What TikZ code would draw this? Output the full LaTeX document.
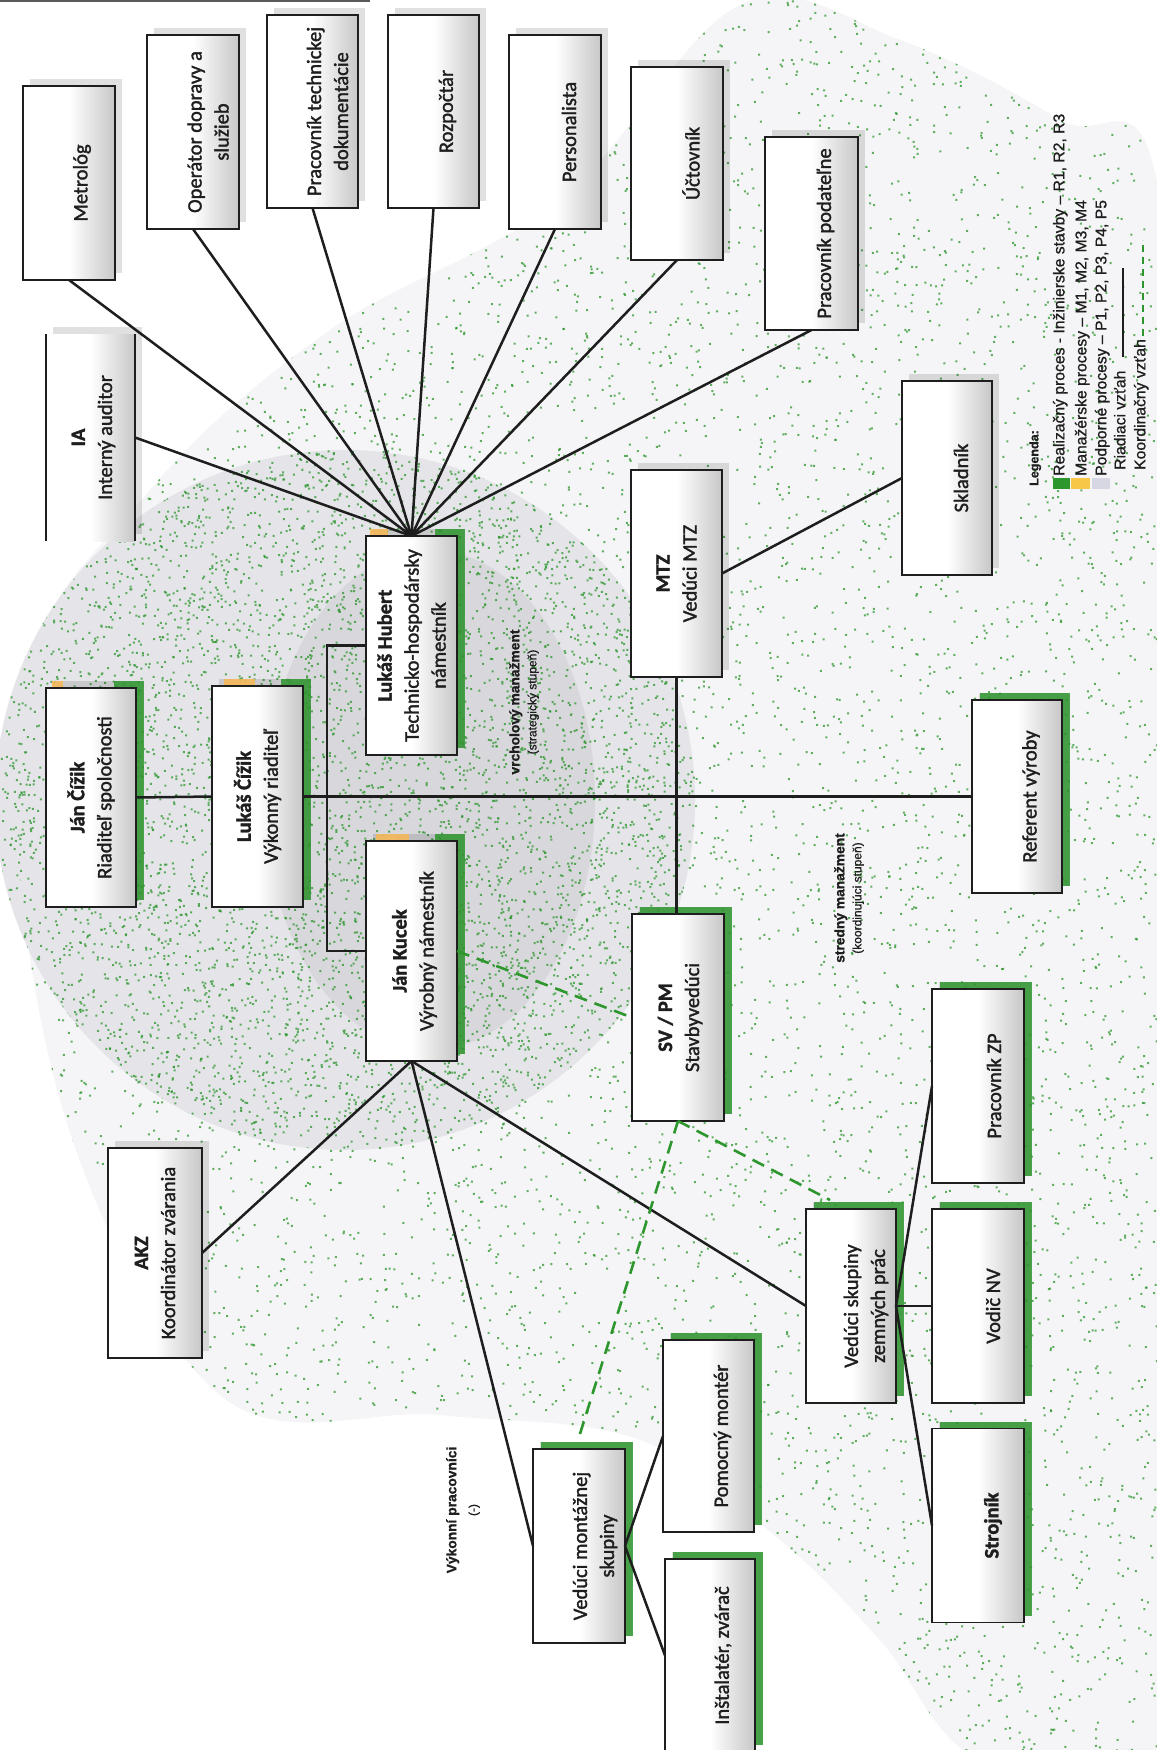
\documentclass[tikz,border=0pt]{standalone}
\usepackage{fontspec}
\setmainfont{Carlito}[FakeBold=1.6]
\newfontfamily\legfont{Liberation Sans}[FakeBold=1.0]
\usetikzlibrary{calc}
\pgfdeclarelayer{back}
\pgfdeclarelayer{shad}
\pgfsetlayers{back,shad,main}
\definecolor{grn}{RGB}{45,150,45}
\definecolor{org}{RGB}{245,185,90}
\definecolor{bgA}{RGB}{245,245,247}
\definecolor{bgB}{RGB}{229,229,233}
\definecolor{bgC}{RGB}{216,216,220}
\definecolor{ink}{RGB}{30,30,30}
\definecolor{lav}{RGB}{215,215,228}
\tikzset{
 obox/.style={rectangle, draw=ink, line width=1.7pt, left color=white, right color=black!22, middle color=white, inner sep=0pt, outer sep=0pt},
 otext/.style={rotate=90, align=center, inner sep=0pt, text=ink, font=\fontsize{20.5}{27}\selectfont},
 conn/.style={draw=ink, line width=2.5pt},
 coordl/.style={draw=grn, line width=2.6pt, dash pattern=on 13pt off 8pt},
 gshad/.style={fill=grn, opacity=0.85},
 pshad/.style={fill=black, opacity=0.12},
 lgd/.style={rotate=90, anchor=mid west, inner sep=0pt, text=ink, font=\legfont\fontsize{15.7}{18}\selectfont},
 lvl/.style={rotate=90, align=center, inner sep=0pt, text=ink, font=\legfont\fontsize{13.8}{17}\selectfont},
 spk/.style={fill=grn, opacity=0.75},
}
\newcommand\ShGray[1]{\fill[pshad] ($(#1.south west)+(7,-7)$) rectangle ($(#1.north east)+(7,-7)$);}
\newcommand\ShGreen[1]{\fill[gshad] ($(#1.south west)+(8,-7)$) rectangle ($(#1.north east)+(8,-7)$);}
\newcommand\ShHead[3]{\fill[gshad] ($(#1.south east)+(-22,-7)$) rectangle ($(#1.north east)+(8,-7)$);
 \fill[org, opacity=0.9] ($(#1.north west)+(#2,0)$) rectangle ($(#1.north west)+(#3,-7)$);}
\newcommand\OuterBlob{plot[smooth cycle, tension=0.6] coordinates {(20,700) (150,490) (330,330) (560,200) (740,5) (900,40) (1060,120) (1160,200) (1175,900) (1160,1760) (980,1760) (880,1640) (780,1540) (640,1440) (440,1415) (220,1395) (60,1100)}}
\begin{document}
\begin{tikzpicture}[x=1pt,y=-1pt]
\useasboundingbox (0,0) rectangle (1156,1750);

% ---------- boxes ----------
\node[obox, minimum width=92pt, minimum height=194pt] (metro) at (69,183) {};
\node[otext] (metroT) at ([xshift=13pt]metro.center) {Metrológ};
\node[obox, minimum width=92pt, minimum height=194pt] (oper) at (193,132) {};
\node[otext] (operT) at ([xshift=15pt]oper.center) {Operátor dopravy a\\služieb};
\node[obox, minimum width=91pt, minimum height=193pt] (ptd) at (312.5,111.5) {};
\node[otext] (ptdT) at ([xshift=15pt]ptd.center) {Pracovník technickej\\dokumentácie};
\node[obox, minimum width=91pt, minimum height=193pt] (rozp) at (433.5,111.5) {};
\node[otext] (rozpT) at ([xshift=14pt]rozp.center) {Rozpočtár};
\node[obox, minimum width=92pt, minimum height=194pt] (pers) at (555,132) {};
\node[otext] (persT) at ([xshift=14pt]pers.center) {Personalista};
\node[obox, minimum width=92pt, minimum height=193pt] (ucto) at (677,163.5) {};
\node[otext] (uctoT) at ([xshift=14pt]ucto.center) {Účtovník};
\node[obox, minimum width=93pt, minimum height=193pt] (podat) at (811.5,233.5) {};
\node[otext] (podatT) at ([xshift=14pt]podat.center) {Pracovník podateľne};
\node[obox, minimum width=90pt, minimum height=194pt] (sklad) at (947,478) {};
\node[otext] (skladT) at ([xshift=14pt]sklad.center) {Skladník};

\node[obox, draw=none, minimum width=89pt, minimum height=207pt] (ia) at (90.5,437.5) {};
\node[otext] (iaT) at ([xshift=3pt]ia.center) {\textbf{IA}\\Interný auditor};

\node[obox, minimum width=90pt, minimum height=219pt] (jan) at (91,797.5) {};
\node[otext] (janT) at (jan.center) {\textbf{Ján Čížik}\\Riaditeľ spoločnosti};
\node[obox, minimum width=91pt, minimum height=221pt] (lukas) at (257.5,796.5) {};
\node[otext] (lukasT) at (lukas.center) {\textbf{Lukáš Čížik}\\Výkonný riaditeľ};
\node[obox, minimum width=91pt, minimum height=219pt] (hubert) at (411.5,645.5) {};
\node[otext] (hubertT) at (hubert.center) {\textbf{Lukáš Hubert}\\Technicko-hospodársky\\námestník};
\node[obox, minimum width=91pt, minimum height=220pt] (kucek) at (411.5,951) {};
\node[otext] (kucekT) at ([xshift=3pt]kucek.center) {\textbf{Ján Kucek}\\Výrobný námestník};
\node[obox, minimum width=91pt, minimum height=207pt] (mtz) at (676.5,573.5) {};
\node[otext] (mtzT) at (mtz.center) {\textbf{MTZ}\\Vedúci MTZ};
\node[obox, minimum width=92pt, minimum height=207pt] (svpm) at (678,1017.5) {};
\node[otext] (svpmT) at ([xshift=2pt]svpm.center) {\textbf{SV / PM}\\Stavbyvedúci};
\node[obox, minimum width=90pt, minimum height=193pt] (ref) at (1017,796.5) {};
\node[otext] (refT) at ([xshift=14pt]ref.center) {Referent výroby};
\node[obox, minimum width=94pt, minimum height=210pt] (akz) at (155,1253) {};
\node[otext] (akzT) at (akz.center) {\textbf{AKZ}\\Koordinátor zvárania};

\node[obox, minimum width=92pt, minimum height=194pt] (pzp) at (978,1086) {};
\node[otext] (pzpT) at ([xshift=16pt]pzp.center) {Pracovník ZP};
\node[obox, minimum width=92pt, minimum height=194pt] (vnv) at (978,1306) {};
\node[otext] (vnvT) at ([xshift=15pt]vnv.center) {Vodič NV};
\node[obox, minimum width=92pt, minimum height=194pt] (stroj) at (978,1525.5) {};
\node[otext] (strojT) at ([xshift=15pt]stroj.center) {\textbf{Strojník}};
\node[obox, minimum width=90pt, minimum height=194pt] (vszp) at (851,1306) {};
\node[otext] (vszpT) at ([xshift=15pt]vszp.center) {Vedúci skupiny\\zemných prác};
\node[obox, minimum width=91pt, minimum height=192pt] (pomoc) at (708.5,1436) {};
\node[otext] (pomocT) at ([xshift=14pt]pomoc.center) {Pomocný montér};
\node[obox, minimum width=90pt, minimum height=193pt] (instal) at (710,1655.5) {};
\node[otext] (instalT) at ([xshift=13pt]instal.center) {Inštalatér, zvárač};
\node[obox, minimum width=92pt, minimum height=194pt] (vms) at (579,1546) {};
\node[otext] (vmsT) at ([xshift=16pt]vms.center) {Vedúci montážnej\\skupiny};

% IA sides only
\draw[ink, line width=1.7pt] (ia.north west) -- (ia.south west);
\draw[ink, line width=2pt] (ia.north east) -- (ia.south east);

% ---------- level labels ----------
\node[lvl] (lvl1) at (524,702) {\textbf{vrcholový manažment}\\{\fontsize{12}{14}\selectfont (strategický stupeň)}};
\node[lvl] (lvl2) at (849,898) {\textbf{stredný manažment}\\{\fontsize{12}{14}\selectfont (koordinujúci stupeň)}};
\node[lvl, font=\legfont\fontsize{13.8}{21}\selectfont] (lvl3) at (463,1510) {\textbf{Výkonní pracovníci}\\{\fontsize{12}{14}\selectfont (-)}};

% ---------- connectors ----------
\foreach \s in {metro,oper,ptd,rozp,pers,ucto,podat}
  \draw[conn] (\s.south) -- (hubert.north);
\draw[conn] (ia.east) -- (hubert.north);
\draw[conn] (mtz.east) -- (sklad.west);
\draw[conn] (jan.east) -- (lukas.west);
\draw[conn] (lukas.east) -- (ref.west);
\coordinate (brk) at (327,796.5);
\draw[conn] (hubert.west) -| (brk) |- (kucek.west);
\draw[conn] (mtz.south) -- (mtz.south |- svpm.north);
\draw[conn] (kucek.south) -- (akz.east);
\draw[conn] (kucek.south) -- (vms.west);
\draw[conn] (kucek.south) -- (vszp.west);
\draw[conn] (vszp.east) -- (pzp.west);
\draw[conn] (vszp.east) -- (vnv.west);
\draw[conn] (vszp.east) -- (stroj.west);
\draw[conn] (vms.east) -- (pomoc.west);
\draw[conn] (vms.east) -- (instal.west);
\draw[coordl] (kucek.east) -- (svpm.west);
\draw[coordl] (svpm.south) -- ([xshift=-21pt,yshift=9pt]vszp.north);
\draw[coordl] (svpm.south) -- ([yshift=12pt]vms.north);

% ---------- legend ----------
\node[lgd, font=\legfont\bfseries\fontsize{12.5}{15}\selectfont] (leg0) at (1036,486) {Legenda:};
\node[lgd] (leg1) at (1062,476) {Realizačný proces - Inžinierske stavby – R1, R2, R3};
\node[lgd] (leg2) at (1084,476) {Manažérske procesy – M1, M2, M3, M4};
\node[lgd] (leg3) at (1104,476) {Podporné procesy – P1, P2, P3, P4, P5};
\node[lgd] (leg4) at (1123,470) {Riadiaci vzťah};
\node[lgd] (leg5) at (1143,470) {Koordinačný vzťah};
\fill[grn] (1053,478) rectangle (1070,489);
\fill[org!80!yellow] (1071,478) rectangle (1090,489);
\fill[lav] (1092,478) rectangle (1110,489);
\coordinate (l4a) at (1123,357); \coordinate (l4b) at (1123,268);
\draw[ink, line width=1.3pt] (l4a) -- (l4b);
\coordinate (l5a) at (1143,336); \coordinate (l5b) at (1143,240);
\draw[grn, line width=2.2pt, dash pattern=on 7pt off 5pt] (l5a) -- (l5b);

% ---------- shadows ----------
\begin{pgfonlayer}{shad}
\foreach \b in {metro,oper,ptd,rozp,pers,ucto,podat,sklad,ia,jan,lukas,hubert,kucek,mtz,svpm,ref,akz,pzp,vnv,stroj,vszp,pomoc,instal,vms}
  {\ShGray{\b}}
\foreach \b in {svpm,ref,pzp,vnv,stroj,vszp,pomoc,instal,vms}
  {\ShGreen{\b}}
\ShHead{jan}{6}{17}
\ShHead{lukas}{12}{43}
\ShHead{hubert}{4}{22}
\ShHead{kucek}{10}{43}
\end{pgfonlayer}

% ---------- background ----------
\begin{pgfonlayer}{back}
\fill[white] (0,0) rectangle (1156,1750);
\fill[bgA] \OuterBlob;
\fill[bgB] (345,800) circle[radius=350];
\fill[bgC] (430,800) ellipse[x radius=165, y radius=250];
\pgfmathsetseed{7}
\begin{scope}
\clip \OuterBlob;
\foreach \j in {1,...,30}
  {\fill[spk] \foreach \i in {1,...,300} { ({rnd*1156},{rnd*1750}) rectangle ++(2,2) };}
\end{scope}
\begin{scope}
\clip (345,800) circle[radius=350];
\foreach \j in {1,...,18}
  {\fill[spk] \foreach \i in {1,...,300} { ({rnd*700},{450+rnd*700}) rectangle ++(2,2) };}
\end{scope}
\draw[black!65, line width=1.5pt] (0,1) -- (370,1);
\end{pgfonlayer}
\end{tikzpicture}
\end{document}
